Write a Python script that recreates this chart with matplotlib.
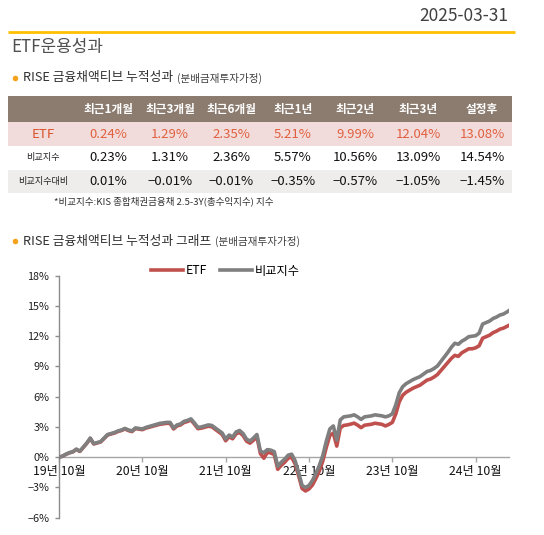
import numpy as np
import matplotlib
matplotlib.use('Agg')
import matplotlib.pyplot as plt
from matplotlib.patches import Rectangle

plt.rcParams['font.family'] = ['Noto Sans CJK KR', 'DejaVu Sans']

# table data
periods = ['최근1개월', '최근3개월', '최근6개월', '최근1년', '최근2년', '최근3년', '설정후']
row_labels = ['ETF', '비교지수', '비교지수대비']
etf_ret = ['0.24%', '1.29%', '2.35%', '5.21%', '9.99%', '12.04%', '13.08%']
bm_ret = ['0.23%', '1.31%', '2.36%', '5.57%', '10.56%', '13.09%', '14.54%']
diff_ret = ['0.01%', '-0.01%', '-0.01%', '-0.35%', '-0.57%', '-1.05%', '-1.45%']

# chart data: half-month steps from Oct 2019, last point 2025-03-31
months = list(np.arange(0, 65, 0.5)) + [64.8]
bm = [0.0, 0.1, 0.3, 0.45, 0.55, 0.8, 0.6, 1.0, 1.4, 1.9,
      1.35, 1.45, 1.55, 1.9, 2.25, 2.35, 2.45, 2.6, 2.7, 2.85,
      2.7, 2.6, 2.9, 2.85, 2.8, 2.95, 3.05, 3.15, 3.25, 3.35,
      3.4, 3.45, 3.45, 2.9, 3.2, 3.3, 3.55, 3.65, 3.8, 3.4,
      2.95, 3.0, 3.1, 3.2, 3.15, 2.9, 2.65, 2.4, 1.8, 2.2,
      2.0, 2.5, 2.65, 2.35, 1.8, 1.6, 1.9, 2.25, 0.6, 0.45,
      0.75, 0.7, 0.55, -0.9, -0.5, -0.2, 0.2, 0.3, -0.35, -1.5,
      -2.8, -3.0, -2.8, -2.3, -1.6, -0.8, 0.2, 1.6, 2.8, 3.1,
      1.7, 3.7, 4.0, 4.05, 4.1, 4.2, 4.0, 3.75, 4.0, 4.05,
      4.1, 4.2, 4.15, 4.1, 4.0, 4.1, 4.3, 5.2, 6.4, 7.0,
      7.3, 7.5, 7.7, 7.85, 8.0, 8.25, 8.5, 8.6, 8.8, 9.05,
      9.5, 9.95, 10.4, 10.9, 11.3, 11.2, 11.5, 11.7, 11.95, 12.0,
      12.05, 12.3, 13.2, 13.35, 13.5, 13.75, 13.9, 14.1, 14.2, 14.4,
      14.54]
etf = [0.0, 0.1, 0.28, 0.43, 0.53, 0.77, 0.57, 0.97, 1.37, 1.86,
       1.31, 1.41, 1.51, 1.86, 2.2, 2.3, 2.4, 2.55, 2.65, 2.8,
       2.64, 2.54, 2.84, 2.79, 2.73, 2.88, 2.97, 3.07, 3.17, 3.26,
       3.31, 3.36, 3.35, 2.8, 3.1, 3.2, 3.44, 3.54, 3.69, 3.28,
       2.83, 2.88, 2.97, 3.07, 3.02, 2.76, 2.5, 2.25, 1.63, 2.03,
       1.83, 2.32, 2.46, 2.15, 1.6, 1.39, 1.68, 2.02, 0.36, -0.1,
       0.48, 0.42, 0.26, -1.2, -0.8, -0.5, -0.1, 0.0, -0.67, -1.83,
       -3.1, -3.35, -3.15, -2.75, -2.1, -1.35, -0.35, 1.0, 2.15, 2.4,
       1.1, 2.9, 3.15, 3.2, 3.28, 3.38, 3.18, 2.93, 3.17, 3.22,
       3.27, 3.37, 3.32, 3.26, 3.1, 3.25, 3.45, 4.3, 5.5, 6.15,
       6.45, 6.65, 6.85, 7.0, 7.15, 7.4, 7.65, 7.75, 7.95, 8.2,
       8.6, 9.0, 9.4, 9.8, 10.1, 10.0, 10.35, 10.55, 10.75, 10.75,
       10.85, 11.05, 11.8, 11.95, 12.1, 12.35, 12.5, 12.7, 12.8, 12.98,
       13.08]
tick_months = [0, 12, 24, 36, 48, 60]
tick_labels = ['19년 10월', '20년 10월', '21년 10월', '22년 10월', '23년 10월', '24년 10월']
y_ticks = [-6, -3, 0, 3, 6, 9, 12, 15, 18]

W, H = 544, 535
fig = plt.figure(figsize=(W / 100, H / 100), dpi=100)
renderer = fig.canvas.get_renderer()

# background layer in pixel coordinates for header and table
bg = fig.add_axes([0, 0, 1, 1])
bg.set_xlim(0, W)
bg.set_ylim(H, 0)
bg.axis('off')

bg.text(508, 16, '2025-03-31', ha='right', va='center', fontsize=12.5, color='#404040')
bg.plot([8, 515], [32, 32], color='#FFC000', lw=2, solid_capstyle='butt')
bg.text(11, 47, 'ETF운용성과', ha='left', va='center', fontsize=12.2, color='#505050')

def subtitle(y, main, sub):
    bg.plot(15, y, 'o', color='#F7A21B', ms=4, mec='none')
    t = bg.text(23, y, main, ha='left', va='center', fontsize=9.2, color='#303030', fontweight='medium')
    w = t.get_window_extent(renderer=renderer).width
    bg.text(23 + w + 4, y + 0.5, sub, ha='left', va='center', fontsize=7.6, color='#404040')

subtitle(78, 'RISE 금융채액티브 누적성과', '(분배금재투자가정)')

# table
x0, x1 = 8, 512
rows_y = [96, 122, 146, 169.5, 193]
row_colors = ['#8C7C70', '#F2DCDB', '#FFFFFF', '#EFEDEC']
for i, c in enumerate(row_colors):
    bg.add_patch(Rectangle((x0, rows_y[i]), x1 - x0, rows_y[i + 1] - rows_y[i], color=c, lw=0))

col_x = [108, 170, 231, 293, 355, 418, 482]
label_x = 43
yc = [(rows_y[i] + rows_y[i + 1]) / 2 for i in range(4)]
for cx, p in zip(col_x, periods):
    bg.text(cx, yc[0], p, ha='center', va='center', fontsize=8.4, color='white', fontweight='bold')

bg.text(label_x, yc[1], row_labels[0], ha='center', va='center', fontsize=9.5, color='#D9542B', fontweight='medium')
bg.text(label_x, yc[2], row_labels[1], ha='center', va='center', fontsize=6.6, color='#202020')
bg.text(label_x, yc[3], row_labels[2], ha='center', va='center', fontsize=6.6, color='#202020')
for cx, a, b, d in zip(col_x, etf_ret, bm_ret, diff_ret):
    bg.text(cx, yc[1], a, ha='center', va='center', fontsize=9.5, color='#E0603F')
    bg.text(cx, yc[2], b, ha='center', va='center', fontsize=9.5, color='#111111')
    bg.text(cx, yc[3], d.replace('-', '\u2212'), ha='center', va='center', fontsize=9.5, color='#111111')

bg.text(54, 201, '*비교지수:KIS 종합채권금융채 2.5-3Y(총수익지수) 지수', ha='left', va='center',
        fontsize=6.9, color='#303030')

subtitle(241, 'RISE 금융채액티브 누적성과 그래프', '(분배금재투자가정)')

# chart
ax_l, ax_r, ax_t, ax_b = 59, 509, 275.7, 517.7
ax = fig.add_axes([ax_l / W, (H - ax_b) / H, (ax_r - ax_l) / W, (ax_b - ax_t) / H])
ax.patch.set_alpha(0)
l1, = ax.plot(months, etf, color='#C0504D', lw=2.6, label='ETF', zorder=3)
l2, = ax.plot(months, bm, color='#7F7F7F', lw=2.6, label='비교지수', zorder=4)

ax.set_xlim(0, 64.8)
ax.set_ylim(-6, 18)
ax.set_yticks(y_ticks)
ax.set_yticklabels([f'{v}%'.replace('-', '\u2212') for v in y_ticks])
ax.set_xticks(tick_months)
ax.set_xticklabels(tick_labels)

for s in ['top', 'right']:
    ax.spines[s].set_visible(False)
ax.spines['left'].set_color('#8C8C8C')
ax.spines['left'].set_linewidth(1)
ax.spines['bottom'].set_position(('data', 0))
ax.spines['bottom'].set_color('#A6A6A6')
ax.spines['bottom'].set_linewidth(1)
ax.tick_params(axis='y', direction='out', length=3, width=1, color='#8C8C8C', pad=4,
               labelsize=7.8, labelcolor='#202020')
ax.tick_params(axis='x', direction='out', length=3.5, width=1, color='#A6A6A6', pad=2,
               labelsize=8.8, labelcolor='#111111')

fig.legend(handles=[l1, l2], loc='center', bbox_to_anchor=(225.5 / W, (H - 271) / H),
           ncol=2, frameon=False, fontsize=8.8, handlelength=2.6, handletextpad=0.25,
           columnspacing=1.1, borderaxespad=0)

fig.savefig('out.png', dpi=100)
